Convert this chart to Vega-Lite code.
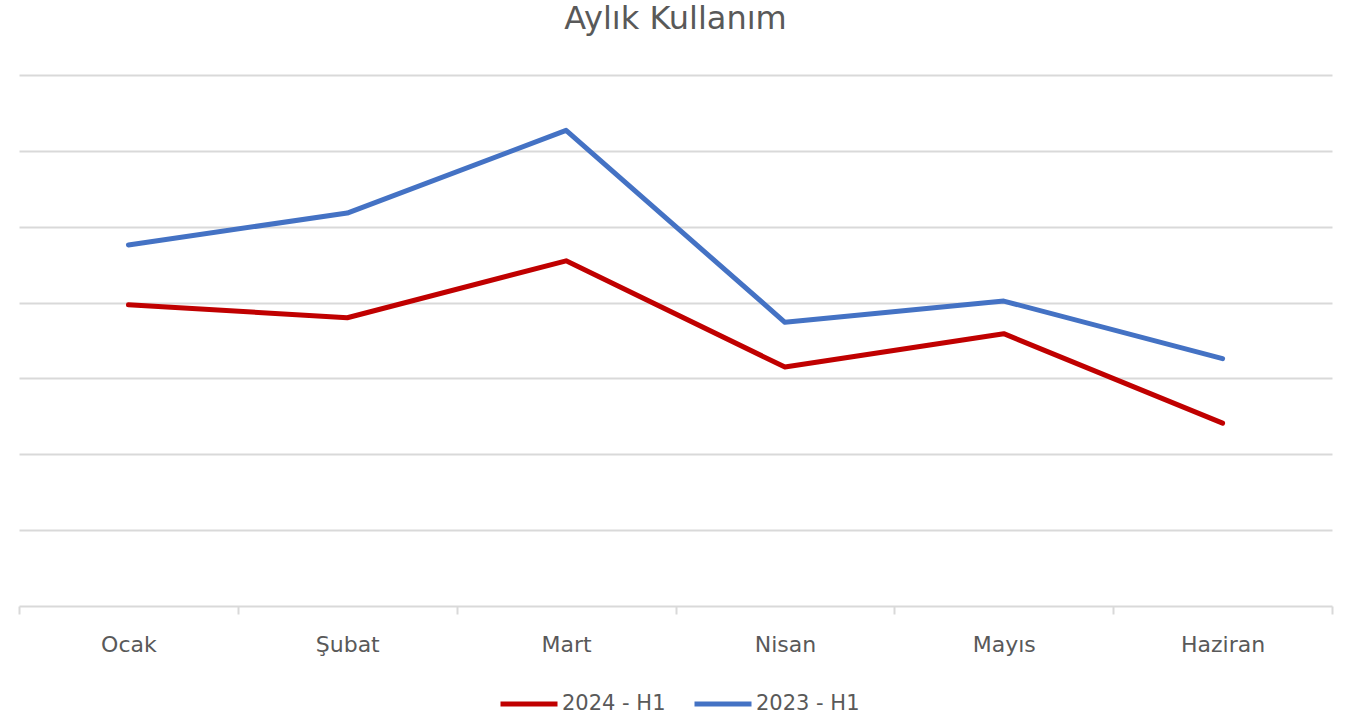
{
  "$schema": "https://vega.github.io/schema/vega-lite/v6.json",
  "width": 1313,
  "height": 531,
  "autosize": "none",
  "padding": {"left": 19, "top": 75, "right": 19, "bottom": 111},
  "background": "white",
  "title": {
    "text": "Aylık Kullanım",
    "fontSize": 32,
    "fontWeight": "normal",
    "font": "DejaVu Sans",
    "color": "#595959",
    "anchor": "middle",
    "offset": 39
  },
  "config": {
    "view": {"stroke": null},
    "font": "DejaVu Sans"
  },
  "data": {
    "values": [
      {"ay": "Ocak", "seri": "2024 - H1", "deger": 3.97},
      {"ay": "Şubat", "seri": "2024 - H1", "deger": 3.80},
      {"ay": "Mart", "seri": "2024 - H1", "deger": 4.55},
      {"ay": "Nisan", "seri": "2024 - H1", "deger": 3.15},
      {"ay": "Mayıs", "seri": "2024 - H1", "deger": 3.59},
      {"ay": "Haziran", "seri": "2024 - H1", "deger": 2.41},
      {"ay": "Ocak", "seri": "2023 - H1", "deger": 4.76},
      {"ay": "Şubat", "seri": "2023 - H1", "deger": 5.18},
      {"ay": "Mart", "seri": "2023 - H1", "deger": 6.27},
      {"ay": "Nisan", "seri": "2023 - H1", "deger": 3.74},
      {"ay": "Mayıs", "seri": "2023 - H1", "deger": 4.02},
      {"ay": "Haziran", "seri": "2023 - H1", "deger": 3.26}
    ]
  },
  "mark": {"type": "line", "strokeWidth": 5, "strokeCap": "round", "strokeJoin": "round"},
  "encoding": {
    "x": {
      "field": "ay",
      "type": "nominal",
      "sort": ["Ocak", "Şubat", "Mart", "Nisan", "Mayıs", "Haziran"],
      "scale": {"type": "band", "paddingInner": 0, "paddingOuter": 0},
      "axis": {
        "title": null,
        "labelAngle": 0,
        "labelFontSize": 22,
        "labelColor": "#595959",
        "labelPadding": 20,
        "tickBand": "extent",
        "tickColor": "#d9d9d9",
        "tickWidth": 2,
        "tickSize": 8,
        "domainColor": "#d9d9d9",
        "domainWidth": 2,
        "grid": false
      }
    },
    "y": {
      "field": "deger",
      "type": "quantitative",
      "scale": {"domain": [0, 7], "nice": false},
      "axis": {
        "title": null,
        "values": [1, 2, 3, 4, 5, 6, 7],
        "labels": false,
        "ticks": false,
        "domain": false,
        "grid": true,
        "gridColor": "#d9d9d9",
        "gridWidth": 2
      }
    },
    "color": {
      "field": "seri",
      "type": "nominal",
      "scale": {"domain": ["2024 - H1", "2023 - H1"], "range": ["#c00000", "#4472c4"]},
      "legend": {
        "title": null,
        "orient": "none",
        "legendX": 479,
        "legendY": 598,
        "direction": "horizontal",
        "symbolType": "stroke",
        "symbolSize": 3249,
        "symbolStrokeWidth": 5,
        "labelFontSize": 21,
        "labelColor": "#595959",
        "labelOffset": 2,
        "columnPadding": 18
      }
    }
  }
}
